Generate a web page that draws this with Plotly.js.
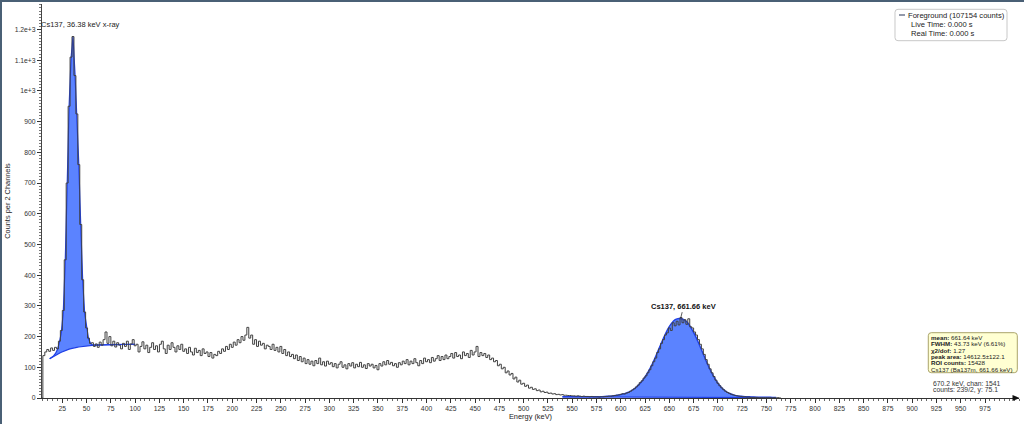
<!DOCTYPE html>
<html><head><meta charset="utf-8">
<script src="https://cdn.plot.ly/plotly-3.0.1.min.js"></script>
<style>
html,body{margin:0;padding:0;background:#fff;overflow:hidden;}
#chart{position:absolute;left:0;top:0;width:1024px;height:424px;}
#bl{position:absolute;left:0;top:0;width:2px;height:424px;background:#4a6075;}
#bt{position:absolute;left:0;top:0;width:1024px;height:2px;background:#4a6075;}
</style></head><body>
<div id="chart"></div><div id="bl"></div><div id="bt"></div>
<script>
// ---- data ----
const spectrumStartKeV = 3;
const spectrumBinKeV = 2;
const spectrumCounts = [
  0,138,150,158,152,163,155,165,160,185,
  220,285,450,700,950,1110,1177,1050,925,760,
  565,385,280,228,195,178,180,168,176,165,
  182,172,190,215,178,200,170,185,166,180,
  172,160,178,168,185,158,176,190,170,175,
  150,168,183,160,172,148,165,180,158,170,
  150,175,185,160,145,172,158,180,165,150,
  170,158,175,152,160,145,165,150,140,162,
  148,155,138,160,145,150,135,148,130,142,
  138,152,145,160,152,168,158,175,165,182,
  172,190,180,200,188,205,230,195,205,175,
  190,168,185,172,178,160,172,168,158,175,
  155,165,150,168,145,158,138,150,135,142,
  128,140,122,135,118,130,112,125,110,120,
  105,122,112,130,108,118,104,120,110,115,
  102,112,98,110,118,100,108,95,112,104,
  115,98,110,102,116,100,108,96,112,104,
  110,98,106,92,112,104,118,108,122,110,
  116,105,112,100,115,108,120,112,125,108,
  120,112,128,115,105,122,112,130,118,125,
  115,132,120,128,138,122,135,125,140,128,
  135,145,130,148,135,140,128,150,138,145,
  132,155,140,150,168,135,148,138,145,132,
  140,125,130,118,122,105,110,95,100,82,
  88,75,80,62,68,52,58,45,48,38,
  42,32,35,28,30,24,26,20,22,18,
  19,15,16,13,14,11,12,10,11,9,
  9,8,8,7,7,6,7,6,5,6,
  5,5,4,5,4,4,4,3,4,4,
  5,5,6,6,7,8,9,10,12,14,
  13,16,18,22,26,30,36,42,50,56,
  65,72,82,92,105,118,130,148,160,178,
  190,205,212,228,220,245,235,250,238,262,
  245,255,240,258,232,228,215,205,190,175,
  160,142,125,110,95,82,70,58,48,40,
  33,27,22,18,15,12,10,8,7,6,
  5,4,4,3,3,2,2,2,2,1,
  1,1,1,1,1,1,0,1,0,1,
  0,0
];

const xrayFitStartKeV = 12;
const xrayFitStepKeV = 2;
const xrayContinuum = [
  128,132,136,140,143,146,149,152,155,157,
  159,161,163,164,165,166,167,168,169,170,
  170.5,171,171.5,172,172,172.5,173,173,173,173.5,
  173.5,174,174,174,174,174,174.5,174.5,174.5,174.5,
  175,175,175,175,175
];
const xrayFitTotal = [
  128,132,137,145,158,180,213,278,440,690,
  950,1105,1177,1060,925,760,560,380,276,225,
  193,178,173,172.5,172.3,172.5,173,173,173,173.5,
  173.5,174,174,174,174,174,174.5,174.5,174.5,174.5,
  175,175,175,175,175
];

const csFitStartKeV = 540;
const csFitStepKeV = 4;
const csFitTotal = [
  4,4,4,4,4,4,4,4,4,4,
  4.5,5,6,7,9,11,14,19,26,35,
  48,64,84,108,136,166,195,222,242,255,
  259,257,248,230,207,180,150,120,92,68,
  48,33,22,15,10,7,5.5,4.5,4,3.5,
  3,3,2.5,2.5,2,2
];
const csBaseStartKeV = 540;
const csBaseStepKeV = 20;
const csBaseline = [3.5,3.3,3.1,2.9,2.7,2.5,2.3,2.1,1.9,1.7,1.5,1.3];

const xTickVals = [25,50,75,100,125,150,175,200,225,250,275,300,325,350,375,400,425,450,475,500,
  525,550,575,600,625,650,675,700,725,750,775,800,825,850,875,900,925,950,975];
const yTickVals = [0,100,200,300,400,500,600,700,800,900,1000,1100,1200];
const yTickText = ['0','100','200','300','400','500','600','700','800','900','1e+3','1.1e+3','1.2e+3'];

const xrayLabel = 'Cs137, 36.38 keV x-ray';
const csLabel = 'Cs137, 661.66 keV';
const csPeakKeV = 661.66;
const csPeakCounts = 260;
const legendLines = ['Foreground (107154 counts)', 'Live Time: 0.000 s', 'Real Time: 0.000 s'];
const peakInfoLabels = ['mean:', 'FWHM:', 'χ2/dof:', 'peak area:', 'ROI counts:', ''];
const peakInfoValues = ['661.64 keV', '43.73 keV (6.61%)', '1.27', '14612.5±122.1', '15428', 'Cs137 (Ba137m, 661.66 keV)'];
const cursorLines = ['670.2 keV, chan: 1541', 'counts: 239/2, y: 75.1'];

// ---- layout helpers (pixel -> paper) ----
const M = {l:42, r:5, t:4, b:26};
const PW = 1024 - M.l - M.r, PH = 424 - M.t - M.b;
const px = v => (v - M.l) / PW;
const py = v => (424 - M.b - v) / PH;
const P = (x, y) => px(x).toFixed(5) + ',' + py(y).toFixed(5);
function roundRect(x0, y0, x1, y1, r) {
  return 'M' + P(x0 + r, y0) + ' L' + P(x1 - r, y0) + ' Q' + P(x1, y0) + ' ' + P(x1, y0 + r) +
    ' L' + P(x1, y1 - r) + ' Q' + P(x1, y1) + ' ' + P(x1 - r, y1) +
    ' L' + P(x0 + r, y1) + ' Q' + P(x0, y1) + ' ' + P(x0, y1 - r) +
    ' L' + P(x0, y0 + r) + ' Q' + P(x0, y0) + ' ' + P(x0 + r, y0) + ' Z';
}

const FONT = 'Liberation Sans, Arial, Helvetica, sans-serif';
const fillBlue = '#5b83ff';
const lineBlue = '#1f3fe6';

const traces = [
  {type:'scatter', mode:'lines', x0:xrayFitStartKeV, dx:xrayFitStepKeV, y:xrayContinuum,
   line:{color:lineBlue, width:1.2}, hoverinfo:'skip'},
  {type:'scatter', mode:'lines', x0:xrayFitStartKeV, dx:xrayFitStepKeV, y:xrayFitTotal,
   line:{color:lineBlue, width:1.2}, fill:'tonexty', fillcolor:fillBlue, hoverinfo:'skip'},
  {type:'scatter', mode:'lines', x0:csBaseStartKeV, dx:csBaseStepKeV, y:csBaseline,
   line:{color:lineBlue, width:1.2}, hoverinfo:'skip'},
  {type:'scatter', mode:'lines', x0:csFitStartKeV, dx:csFitStepKeV, y:csFitTotal,
   line:{color:lineBlue, width:1.4, shape:'spline', smoothing:0.6}, fill:'tonexty', fillcolor:fillBlue, hoverinfo:'skip'},
  {type:'scatter', mode:'lines', x0:spectrumStartKeV, dx:spectrumBinKeV, y:spectrumCounts,
   line:{color:'#404040', width:1, shape:'hv'}, name:legendLines[0]}
];

const annotations = [];
annotations.push({xref:'paper', yref:'paper', x:px(39), y:py(25), xanchor:'left', yanchor:'middle',
  text:xrayLabel, showarrow:false, font:{family:FONT, size:7.5, color:'#222'}});
annotations.push({xref:'x', yref:'y', x:csPeakKeV, y:csPeakCounts, ax:3, ay:-12, showarrow:true,
  arrowhead:0, arrowwidth:0.8, arrowcolor:'#333', text:'<b>' + csLabel + '</b>',
  font:{family:FONT, size:7.5, color:'#111'}});
// legend box text
const legY = [15, 24, 33], legX = [905.5, 909, 909];
legendLines.forEach((t, i) => annotations.push({xref:'paper', yref:'paper', x:px(legX[i]), y:py(legY[i]),
  xanchor:'left', yanchor:'middle', text:t, showarrow:false, font:{family:FONT, size:7.6, color:'#222'}}));
// peak info box
peakInfoLabels.forEach((lab, i) => annotations.push({xref:'paper', yref:'paper', x:px(929.5), y:py(337.5 + i * 6.3),
  xanchor:'left', yanchor:'middle', showarrow:false, borderpad:0,
  text:(lab ? '<b>' + lab + '</b> ' : '') + peakInfoValues[i], font:{family:FONT, size:6.2, color:'#222'}}));
// cursor info
cursorLines.forEach((t, i) => annotations.push({xref:'paper', yref:'paper', x:px(932), y:py(383.5 + i * 6),
  xanchor:'left', yanchor:'middle', text:t, showarrow:false, borderpad:0, font:{family:FONT, size:6.8, color:'#333'}}));

const shapes = [
  {type:'path', xref:'paper', yref:'paper', path:roundRect(895, 9.3, 1007, 40.7, 3),
   fillcolor:'#ffffff', line:{color:'#c8c8c8', width:1}, layer:'above'},
  {type:'line', xref:'paper', yref:'paper', x0:px(899), y0:py(15), x1:px(905), y1:py(15),
   line:{color:'#4a5572', width:1.2}, layer:'above'},
  {type:'path', xref:'paper', yref:'paper', path:roundRect(928.3, 332.7, 1017.3, 372.7, 3),
   fillcolor:'#ffffd2', line:{color:'#aaa46a', width:1}, layer:'above'},
  {type:'path', xref:'paper', yref:'paper', path:'M' + P(1012.5, 395) + ' L' + P(1019.5, 398) + ' L' + P(1012.5, 401) + ' Z',
   fillcolor:'#111', line:{width:0}, layer:'above'}
];

const layout = {
  width:1024, height:424,
  margin:M,
  paper_bgcolor:'#ffffff', plot_bgcolor:'#ffffff',
  showlegend:false,
  font:{family:FONT, size:7, color:'#333'},
  xaxis:{
    range:[4.1, 1010], showgrid:false, zeroline:false,
    showline:true, linecolor:'#333', linewidth:1,
    tickmode:'array', tickvals:xTickVals, ticks:'outside', ticklen:4, tickcolor:'#333', tickwidth:1,
    tickfont:{family:FONT, size:6.8, color:'#333'},
    minor:{tickmode:'linear', tick0:0, dtick:5, ticks:'outside', ticklen:2, tickcolor:'#444', tickwidth:0.8},
    title:{text:'Energy (keV)', font:{family:FONT, size:7.4, color:'#222'}, standoff:2}
  },
  yaxis:{
    range:[0, 1283], showgrid:false, zeroline:false,
    showline:true, linecolor:'#444', linewidth:1,
    tickmode:'array', tickvals:yTickVals, ticktext:yTickText, ticks:'outside', ticklen:4, tickcolor:'#333', tickwidth:1,
    tickfont:{family:FONT, size:6.8, color:'#333'},
    minor:{tickmode:'linear', tick0:0, dtick:10, ticks:'outside', ticklen:2, tickcolor:'#555', tickwidth:0.8},
    title:{text:'Counts per 2 Channels', font:{family:FONT, size:7.4, color:'#222'}, standoff:3}
  },
  annotations:annotations,
  shapes:shapes
};

Plotly.newPlot('chart', traces, layout, {staticPlot:true, displayModeBar:false});
</script>
</body></html>
